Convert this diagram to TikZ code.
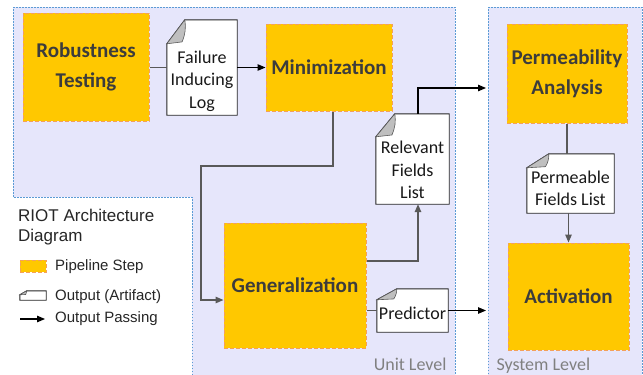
\documentclass[tikz,border=0pt]{standalone}
\usepackage{fontspec}
\setmainfont{Carlito}
\newfontfamily\legendfont{Liberation Sans}
\usetikzlibrary{arrows.meta,calc,backgrounds,positioning}

\definecolor{regionfill}{RGB}{230,230,251}
\definecolor{regionline}{RGB}{91,155,213}
\definecolor{stepfill}{RGB}{255,200,0}
\definecolor{stepline}{RGB}{244,160,90}
\definecolor{linkgray}{RGB}{89,89,89}
\definecolor{steptext}{RGB}{60,60,60}

\tikzset{
  region/.style={fill=regionfill,draw=regionline,line width=1pt,dash pattern=on 1.5pt off 1.5pt},
  pipestep/.style={fill=stepfill,draw=stepline,line width=1pt,dash pattern=on 4pt off 2pt,
    font=\fontsize{21}{30}\selectfont\bfseries,text=steptext,align=center,inner sep=0pt},
  artifact/.style={inner sep=0pt},
  arttext/.style={font=\fontsize{18}{22.5}\selectfont,align=center,text=black!90},
  docline/.style={draw=black!85,line width=0.9pt,fill=white},
  fold/.style={fill=black!25,draw=black!65,line width=0.6pt},
  link/.style={linkgray,line width=1.4pt},
  flow/.style={black,line width=1.1pt,->},
  leveltext/.style={font=\fontsize{18}{22}\selectfont,text=black!50},
  legendtext/.style={font=\legendfont\fontsize{15}{18}\selectfont,text=black!85,anchor=west,inner sep=0pt},
}

\begin{document}
\begin{tikzpicture}[x=1pt,y=-1pt,>={Triangle[length=8pt,width=6.5pt]}]
  \useasboundingbox (0,0) rectangle (643,375);

  % pipeline steps
  \node[pipestep,minimum width=126,minimum height=108] (rt) at (86,67) {Robustness\\Testing};
  \node[pipestep,minimum width=126,minimum height=87] (mini) at (329,67.5) {Minimization};
  \node[pipestep,minimum width=120,minimum height=99] (perm) at (567,73.5) {Permeability\\Analysis};
  \node[pipestep,minimum width=142,minimum height=125] (gen) at (295,285.5) {Generalization};
  \node[pipestep,minimum width=121,minimum height=107] (act) at (568.5,296.5) {Activation};

  % artifacts
  \node[artifact,minimum width=70,minimum height=95] (fil) at (202,67.5) {};
  \node[artifact,minimum width=73,minimum height=90] (rfl) at (412.5,159) {};
  \node[artifact,minimum width=87,minimum height=59] (pfl) at (570.5,183.5) {};
  \node[artifact,minimum width=71,minimum height=43] (pred) at (412.5,310.5) {};
  \node[arttext] (fil-t) at ($(fil)+(0,13.5)$) {Failure\\Inducing\\Log};
  \node[arttext] (rfl-t) at ($(rfl)+(0,11)$) {Relevant\\Fields\\List};
  \node[arttext] (pfl-t) at ($(pfl)+(0,5)$) {Permeable\\Fields List};
  \node[arttext] (pred-t) at ($(pred)+(0,2.5)$) {Predictor};

  % legend
  \node[legendtext,font=\legendfont\fontsize{17}{19.5}\selectfont,align=left,anchor=north west] (title) at (18,209) {RIOT Architecture\\Diagram};
  \node[pipestep,minimum width=26,minimum height=12] (keystep) at (33,266) {};
  \node[artifact,minimum width=26,minimum height=9] (keyart) at (33,295.5) {};
  \coordinate (keya) at (20,319);
  \coordinate (keyb) at (45,319);
  \node[legendtext] (keystep-t) at (55,267) {Pipeline Step};
  \node[legendtext] (keyart-t) at (55,297) {Output (Artifact)};
  \node[legendtext] (keyflow-t) at (55,319) {Output Passing};

  % level names
  \node[leveltext,anchor=base east] (unit) at (450,370) {Unit Level};
  \node[leveltext,anchor=base west] (system) at (493,370) {System Level};

  \begin{scope}[on background layer]
    \fill[white] (0,0) rectangle (643,375);
    \draw[region] (13,7) -- (455,7) -- (455,380) -- (192,380) -- (192,197) -- (13,197) -- cycle;
    \draw[region] (488,7) -- (642,7) -- (642,380) -- (488,380) -- cycle;
    \foreach \d/\w/\c in {fil/18/24,rfl/19/23,pfl/22/14,pred/20/11,keyart/7/4} {
      \draw[docline] ($(\d.north west)+(0,\c)$) -- ($(\d.north west)+(\w,0)$) -- (\d.north east)
        -- (\d.south east) -- (\d.south west) -- cycle;
      \draw[fold] ($(\d.north west)+(0,\c)$) -- ($(\d.north west)+(\w,0)$)
        to[bend left=15] ($(\d.north west)+(0.85*\w,0.92*\c)$) -- cycle;
    }
  \end{scope}

  % connectors
  \coordinate (turn) at (201,166);
  \coordinate (sysin1) at (486,88);
  \coordinate (sysin2) at (486,310.5);
  \draw[link] (rt.east |- fil.west) -- (fil.west);
  \draw[flow] (fil.east) -- (mini.west |- fil.east);
  \draw[link,->] ($(mini.south)+(4,0)$) |- (turn) |- ($(gen.west)+(0,14.5)$);
  \draw[link,->] ($(gen.east)+(0,-24.5)$) -| ($(rfl.south)+(5.5,0)$);
  \draw[flow] ($(rfl.north)+(5.5,0)$) |- (sysin1);
  \draw[link] (perm.south) -- (perm.south |- pfl.north);
  \draw[link,->] (act.north |- pfl.south) -- (act.north);
  \draw[link] (pred.west -| gen.east) -- (pred.west);
  \draw[flow] (pred.east) -- (sysin2);
  \draw[flow] (keya) -- (keyb);
\end{tikzpicture}
\end{document}
